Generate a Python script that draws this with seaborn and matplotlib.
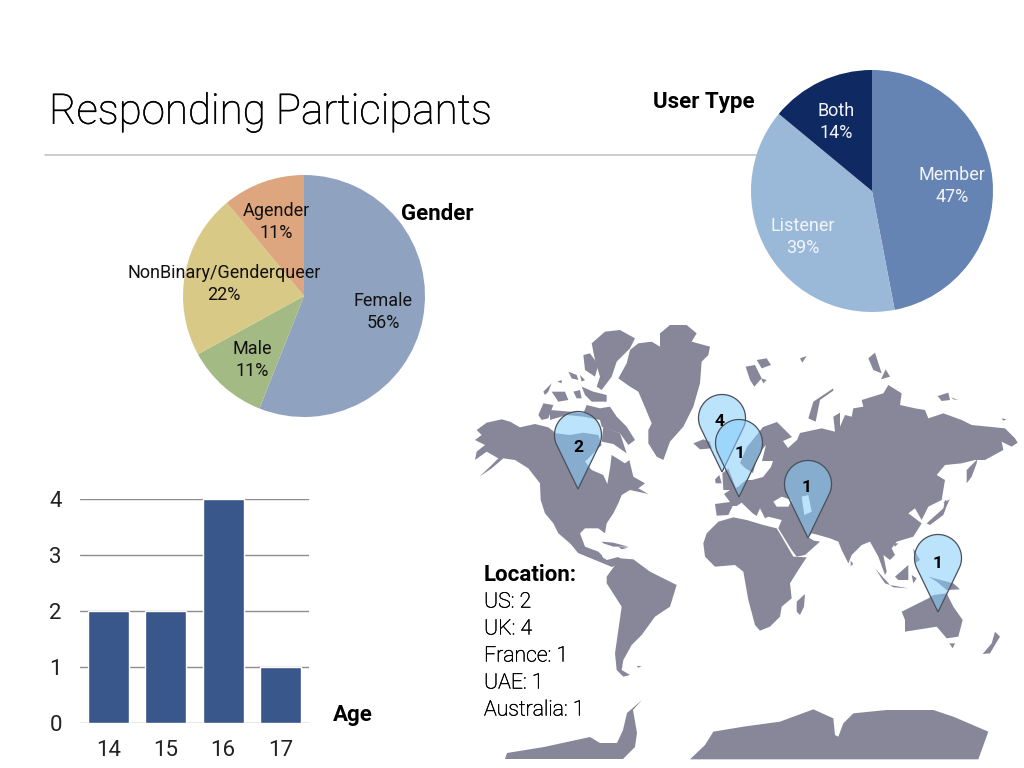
import numpy as np
import pandas as pd
import matplotlib
matplotlib.use('Agg')
import matplotlib.pyplot as plt
import matplotlib.patheffects as pe
from matplotlib.patches import PathPatch, Polygon
from matplotlib.path import Path
import seaborn as sns

# data
ages = ['14', '15', '16', '17']
age_counts = [2, 2, 4, 1]
gender_labels = ['Female', 'Male', 'NonBinary/Genderqueer', 'Agender']
gender_values = [56, 11, 22, 11]
user_labels = ['Member', 'Listener', 'Both']
user_values = [47, 39, 14]
location_names = ['US', 'UK', 'France', 'UAE', 'Australia']
location_counts = [2, 4, 1, 1, 1]
pin_counts = [2, 4, 1, 1, 1]

# colours
gender_colors = ['#8fa3c0', '#a3ba85', '#d9c986', '#dea67f']
user_colors = ['#6583b3', '#9ab8d8', '#0f2a63']
bar_color = '#39578a'
land = '#888799'
pin_fill = '#85cdfb'


# crops of the picture the coastlines were traced from (3x pixels)
def crop_a(pts):
    return [(470 + x / 3, 320 + y / 3) for x, y in pts]


def crop_b(pts):
    return [(745 + x / 3, 320 + y / 3) for x, y in pts]


def crop_c(pts):
    return [(600 + x / 3, 500 + y / 3) for x, y in pts]


north_america = crop_a([(20,330),(50,308),(95,298),(120,305),(150,322),(195,312),(235,322),(258,340),(300,345),(340,338),(385,345),(395,375),(370,400),(345,425),(365,450),(400,465),(412,492),(420,445),(425,405),(465,430),(478,420),(490,470),(525,490),(505,505),(535,522),(480,510),(455,525),(445,550),(430,580),(410,610),(405,640),(385,625),(345,625),(330,640),(345,680),(385,695),(395,705),(400,716),(385,715),(345,705),(300,670),(265,640),(250,610),(225,580),(212,540),(210,490),(175,445),(135,420),(100,415),(65,445),(28,470),(60,440),(85,415),(50,395),(15,420),(20,395),(45,375),(15,360),(35,345)])
central_america = [(570,543),(585,548),(598,552),(600,556),(607,560),(618,557),(625,561),(612,567),(595,560),(578,553)]
canada_islands = [crop_a(p) for p in [
    [(570,40),(600,15),(650,15),(680,40),(665,65),(720,80),(715,105),(695,125),(690,190),(670,260),(640,320),(600,365),(580,420),(560,410),(535,370),(535,330),(545,310),(520,250),(505,215),(480,200),(445,175),(470,130),(480,90),(505,70),(545,65),(570,80)],
    [(365,70),(405,35),(450,30),(495,55),(480,85),(440,125),(425,170),(395,210),(380,200),(390,170),(375,120)],
    [(340,105),(360,100),(385,135),(375,170),(345,150)],
    [(335,200),(370,215),(410,225),(410,245),(365,245),(345,225)],
    [(245,215),(285,215),(295,240),(265,245)],
    [(220,215),(245,190),(235,215),(225,225)],
    [(262,185),(275,180),(275,190)],
    [(295,155),(320,165),(325,180),(305,175)],
    [(330,165),(345,180),(335,185)],
    [(310,215),(330,210),(335,235),(320,235)],
    [(205,285),(220,250),(250,255),(235,295),(215,300)],
    [(240,270),(300,275),(340,280),(350,255),(390,265),(420,260),(440,290),(470,320),(495,360),(475,375),(450,340),(395,320),(390,300),(340,290),(290,285),(240,300)],
    [(400,320),(450,340),(470,400),(430,372),(395,365)],
    [(670,370),(700,358),(720,365),(725,385),(690,388)],
    [(735,478),(748,465),(755,490),(737,490)],
    [(757,460),(775,445),(800,510),(760,510)],
]]
eurasia = (
    [(763,477),(771,467),(773,461),(762,461),(766,445),(760,452),(756,462),(753,473),(745,468),(740,463),(747,447),(763,427),(777,422),(792,437),(783,441),(788,448),(797,440),(800,433)]
    + crop_b([(230,325),(270,335),(265,290),(285,278),(285,320),(300,285),(320,290),(325,265),(355,260),(350,240),(415,220),(430,195),(470,220),(465,255),(510,265),(540,270),(550,295),(595,280),(650,300),(680,315),(730,320),(780,325),(810,355),(818,368),(800,380),(770,365),(775,390),(720,420),(690,420),(650,430),(600,435),(575,465),(600,480),(590,540),(550,560),(530,600),(510,565),(490,580),(530,610),(505,650)])
    + crop_c([(890,125),(875,145),(885,165),(870,180),(850,165),(860,215),(855,225),(835,170),(810,125),(785,135),(755,165),(745,190),(725,150),(715,125),(690,115),(655,105),(635,100),(625,112),(642,122),(660,125),(615,165),(590,170),(575,150),(535,85),(545,60),(505,50),(495,55),(480,25),(470,48),(458,40),(425,8),(410,18),(398,18),(385,45),(350,47),(345,12)])
    + [(730,502),(724,494),(730,490),(738,487),(746,480),(752,480)]
)
asia_islands = [crop_b(p) for p in [
    [(545,610),(595,565),(600,540),(610,545),(595,585),(555,615)],
    [(595,548),(615,538),(605,555)],
    [(665,490),(665,450),(695,420),(700,400),(695,430),(680,470)],
    [(190,295),(205,245),(265,205),(265,212),(225,240),(212,305)],
    [(2,140),(30,135),(50,175),(28,200),(15,180)],
    [(35,120),(65,115),(78,135),(50,145)],
    [(48,175),(65,180),(55,190)],
    [(165,115),(185,108),(172,128)],
    [(370,115),(390,98),(410,160),(385,150)],
    [(408,178),(422,148),(435,170)],
    [(578,228),(610,218),(615,240),(590,243)],
    [(618,232),(640,240),(625,238)],
    [(770,295),(785,298),(775,302)],
]]
south_shapes = [crop_c(p) for p in [
    [(310,130),(320,100),(355,65),(400,52),(440,60),(490,75),(530,85),(545,110),(580,170),(620,172),(595,210),(570,250),(575,295),(545,320),(540,350),(510,380),(480,392),(465,375),(445,300),(430,215),(405,195),(345,200),(315,170)],
    [(590,335),(590,305),(615,282),(612,320),(600,345)],
    [(20,230),(60,175),(100,178),(150,215),(230,255),(210,320),(165,350),(125,405),(95,435),(70,480),(65,510),(90,525),(70,530),(50,510),(45,460),(65,320),(20,250)],
    [(110,498),(125,498),(115,503)],
    [(5,125),(40,128),(85,140),(40,140),(10,130)],
    [(55,140),(85,143),(65,148)],
    [(905,335),(985,295),(1000,285),(1040,280),(1060,320),(1088,360),(1075,410),(1040,415),(1010,380),(915,395),(915,360)],
    [(1048,430),(1065,430),(1058,445)],
    [(1148,462),(1175,430),(1185,395),(1200,410),(1170,460)],
    [(885,230),(925,195),(925,240),(895,240)],
    [(825,205),(870,255),(855,250)],
    [(870,255),(925,265),(880,262)],
    [(935,225),(950,235),(940,250)],
    [(985,230),(1060,250),(1080,268),(1040,270),(1010,245)],
    [(940,145),(960,180),(945,190)],
    [(752,182),(760,192),(752,198)],
    [(880,130),(895,130),(885,140)],
    [(270,778),(315,735),(340,695),(430,680),(540,665),(640,628),(700,655),(705,705),(715,710),(730,670),(760,640),(860,630),(1000,630),(1060,650),(1165,695),(1135,778)],
]]
west_antarctica = [(505,759),(507,753),(544,747),(590,737),(600,743),(617,743),(623,730),(627,713),(642,700),(633,710),(637,733),(635,747),(623,759)]
# seas cut back out of the land
sea_shapes = [
    crop_b([(85,545),(110,530),(140,540),(130,560),(95,560)]),
    crop_b([(170,530),(190,525),(200,575),(178,585)]),
]
land_shapes = [north_america, central_america, eurasia, west_antarctica] + canada_islands + asia_islands
# pin: tip x, tip y in page pixels
pin_tips = [(578, 489), (722, 472), (739, 497), (808, 538), (938, 612)]


def pin_path(tip_x, tip_y, r=23.5, d=54):
    # round head with two straight sides running down to the tip
    cy = tip_y - d
    th0 = np.arccos(r / d)
    th = np.linspace(th0, 2 * np.pi - th0, 80)
    xs = tip_x + r * np.sin(th)
    ys = cy + r * np.cos(th)
    verts = [(tip_x, tip_y)] + list(zip(xs, ys)) + [(tip_x, tip_y)]
    codes = [Path.MOVETO] + [Path.LINETO] * (len(verts) - 2) + [Path.CLOSEPOLY]
    return Path(verts, codes)


sns.set_theme(style='white')
plt.rcParams['font.family'] = ['Roboto', 'Liberation Sans', 'DejaVu Sans']
W, H = 1024, 768
fig = plt.figure(figsize=(W / 100, H / 100), dpi=100)


def px_axes(x0, y0, x1, y1, **kw):
    return fig.add_axes([x0 / W, 1 - y1 / H, (x1 - x0) / W, (y1 - y0) / H], **kw)


thicker = [pe.withStroke(linewidth=0.35, foreground='black')]

# page layer in pixel coordinates
page = fig.add_axes([0, 0, 1, 1], zorder=1)
page.set_xlim(0, W)
page.set_ylim(H, 0)
page.axis('off')
page.patch.set_alpha(0)

page.plot([45, 757], [155, 155], color='#c4c4c4', lw=1.2)
page.text(49, 112, 'Responding Participants', fontsize=30.3, fontweight='light', va='center', ha='left',
          color='black', path_effects=thicker)

for shape in land_shapes:
    page.add_patch(Polygon(shape, closed=True, fc=land, ec='none'))
for shape in sea_shapes:
    page.add_patch(Polygon(shape, closed=True, fc='#ffffff', ec='none'))
for shape in south_shapes:
    page.add_patch(Polygon(shape, closed=True, fc=land, ec='none'))

pin_label_pos = [(578, 447), (720, 422), (740, 453), (807, 488), (938, 563)]
for (tx, ty), n, pos in zip(pin_tips, pin_counts, pin_label_pos):
    page.add_patch(PathPatch(pin_path(tx, ty), fc=pin_fill, ec='none', alpha=0.55))
    page.add_patch(PathPatch(pin_path(tx, ty), fc='none', ec='#4a4f5a', lw=0.9))
    page.text(pos[0], pos[1], str(n), fontsize=12.5, fontweight='bold', ha='center', va='center', color='black')

# gender pie
ax_g = px_axes(183, 175, 425, 417, zorder=2)
ax_g.pie(gender_values, colors=gender_colors, startangle=90, counterclock=False, radius=1,
         wedgeprops={'edgecolor': 'none'})
ax_g.set_xlim(-1, 1)
ax_g.set_ylim(-1, 1)

# user type pie
ax_u = px_axes(751, 70, 993, 312, zorder=2)
ax_u.pie(user_values, colors=user_colors, startangle=90, counterclock=False, radius=1,
         wedgeprops={'edgecolor': 'none'})
ax_u.set_xlim(-1, 1)
ax_u.set_ylim(-1, 1)

# text over the pies
top = fig.add_axes([0, 0, 1, 1], zorder=3)
top.set_xlim(0, W)
top.set_ylim(H, 0)
top.axis('off')
top.patch.set_alpha(0)

gender_pos = [(383, 312), (252, 360), (224, 284), (276, 222)]
for lab, val, (x, y) in zip(gender_labels, gender_values, gender_pos):
    top.text(x, y, f'{lab}\n{val}%', fontsize=13, ha='center', va='center', color='#111111', linespacing=1.25)
user_pos = [(952, 186), (803, 237), (836, 122)]
for lab, val, (x, y) in zip(user_labels, user_values, user_pos):
    top.text(x, y, f'{lab}\n{val}%', fontsize=13, ha='center', va='center', color='#f2f5fa', linespacing=1.25)

top.text(401, 214, 'Gender', fontsize=16, fontweight='bold', ha='left', va='center', color='black')
top.text(653, 102, 'User Type', fontsize=16, fontweight='bold', ha='left', va='center', color='black')
top.text(333, 715, 'Age', fontsize=16, fontweight='bold', ha='left', va='center', color='black')
top.text(484, 575, 'Location:', fontsize=16, fontweight='bold', ha='left', va='center', color='black')
for i, (name, n) in enumerate(zip(location_names, location_counts)):
    top.text(484, 602 + i * 27, f'{name}: {n}', fontsize=15.3, fontweight='light', ha='left', va='center',
             color='black', path_effects=thicker)

# age bars
ages_df = pd.DataFrame({'age': ages, 'count': age_counts})
ax_b = px_axes(80, 499, 309, 723, zorder=2)
ax_b.patch.set_alpha(0)
sns.barplot(data=ages_df, x='age', y='count', color=bar_color, saturation=1, width=0.72, ax=ax_b, zorder=3)
ax_b.set_xlim(-0.5, 3.5)
ax_b.set_ylim(0, 4)
ax_b.set_yticks(range(5))
ax_b.set_xlabel('')
ax_b.set_ylabel('')
ax_b.grid(axis='y', color='#8c8c8c', lw=1, zorder=0)
ax_b.set_axisbelow(True)
sns.despine(ax=ax_b, left=True, bottom=True)
ax_b.tick_params(axis='x', length=0, pad=12, labelsize=16, colors='#222222')
ax_b.tick_params(axis='y', length=0, pad=13, labelsize=16, colors='#222222')

fig.savefig('out.png', dpi=100)
